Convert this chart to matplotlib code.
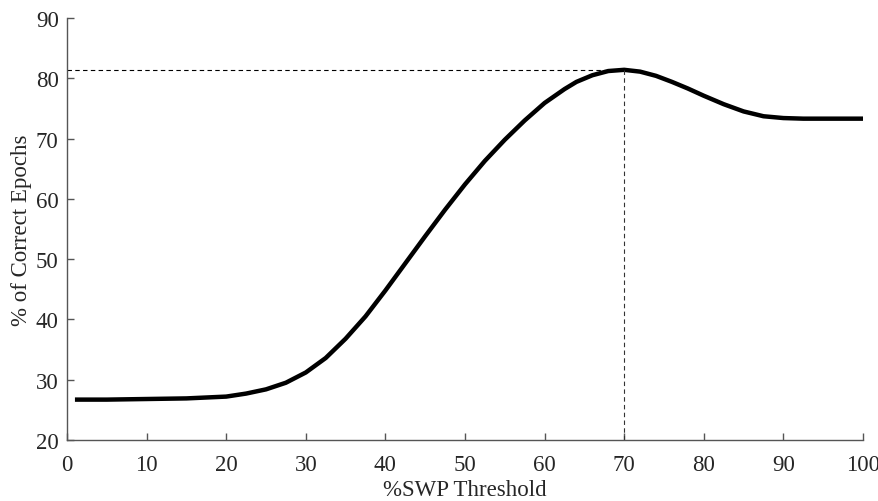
import numpy as np
import matplotlib.pyplot as plt

# % SWP threshold vs % of correct epochs
threshold = [1, 5, 10, 15, 20, 22.5, 25, 27.5, 30, 32.5, 35, 37.5, 40, 42.5, 45,
             47.5, 50, 52.5, 55, 57.5, 60, 62.5, 64, 66, 68, 70, 72, 74, 76,
             78, 80, 82.5, 85, 87.5, 90, 92.5, 95, 100]
correct = [26.7, 26.7, 26.8, 26.9, 27.2, 27.7, 28.4, 29.5, 31.2, 33.6, 36.8, 40.5,
           44.8, 49.3, 53.8, 58.2, 62.4, 66.3, 69.8, 73.0, 75.9, 78.2, 79.4, 80.5,
           81.2, 81.4, 81.1, 80.4, 79.4, 78.3, 77.1, 75.7, 74.5, 73.7, 73.4, 73.3,
           73.3, 73.3]
best_x = 70
best_y = 81.4

xticks = list(range(0, 101, 10))
yticks = list(range(20, 91, 10))

plt.rcParams['font.family'] = ['Liberation Serif', 'DejaVu Serif']
fig = plt.figure(figsize=(8.79, 5.02), dpi=100)
ax = fig.add_axes([0.0762, 0.1215, 0.9056, 0.8407])

ax.plot(threshold, correct, color='black', lw=3.2, solid_capstyle='butt',
        solid_joinstyle='round')
ax.plot([0, best_x], [best_y, best_y], color='black', lw=0.8, ls=(0, (4, 3)))
ax.plot([best_x, best_x], [20, best_y], color='#333333', lw=0.8, ls=(0, (4, 3)))

ax.set_xlim(0, 100)
ax.set_ylim(20, 90)
ax.set_xticks(xticks)
ax.set_yticks(yticks)
ax.spines['top'].set_visible(False)
ax.spines['right'].set_visible(False)
for s in ['left', 'bottom']:
    ax.spines[s].set_color('#555555')
    ax.spines[s].set_linewidth(1.0)
ax.tick_params(direction='in', length=5, width=1.0, color='#555555',
               labelsize=16.5, labelcolor='#262626')
ax.tick_params(axis='x', pad=10)
ax.tick_params(axis='y', pad=6)
ax.set_xlabel('%SWP Threshold', fontsize=16.5, color='#262626', labelpad=3)
ax.set_ylabel('% of Correct Epochs', fontsize=16.5, color='#262626', labelpad=3)

fig.savefig('out.png', dpi=100)
